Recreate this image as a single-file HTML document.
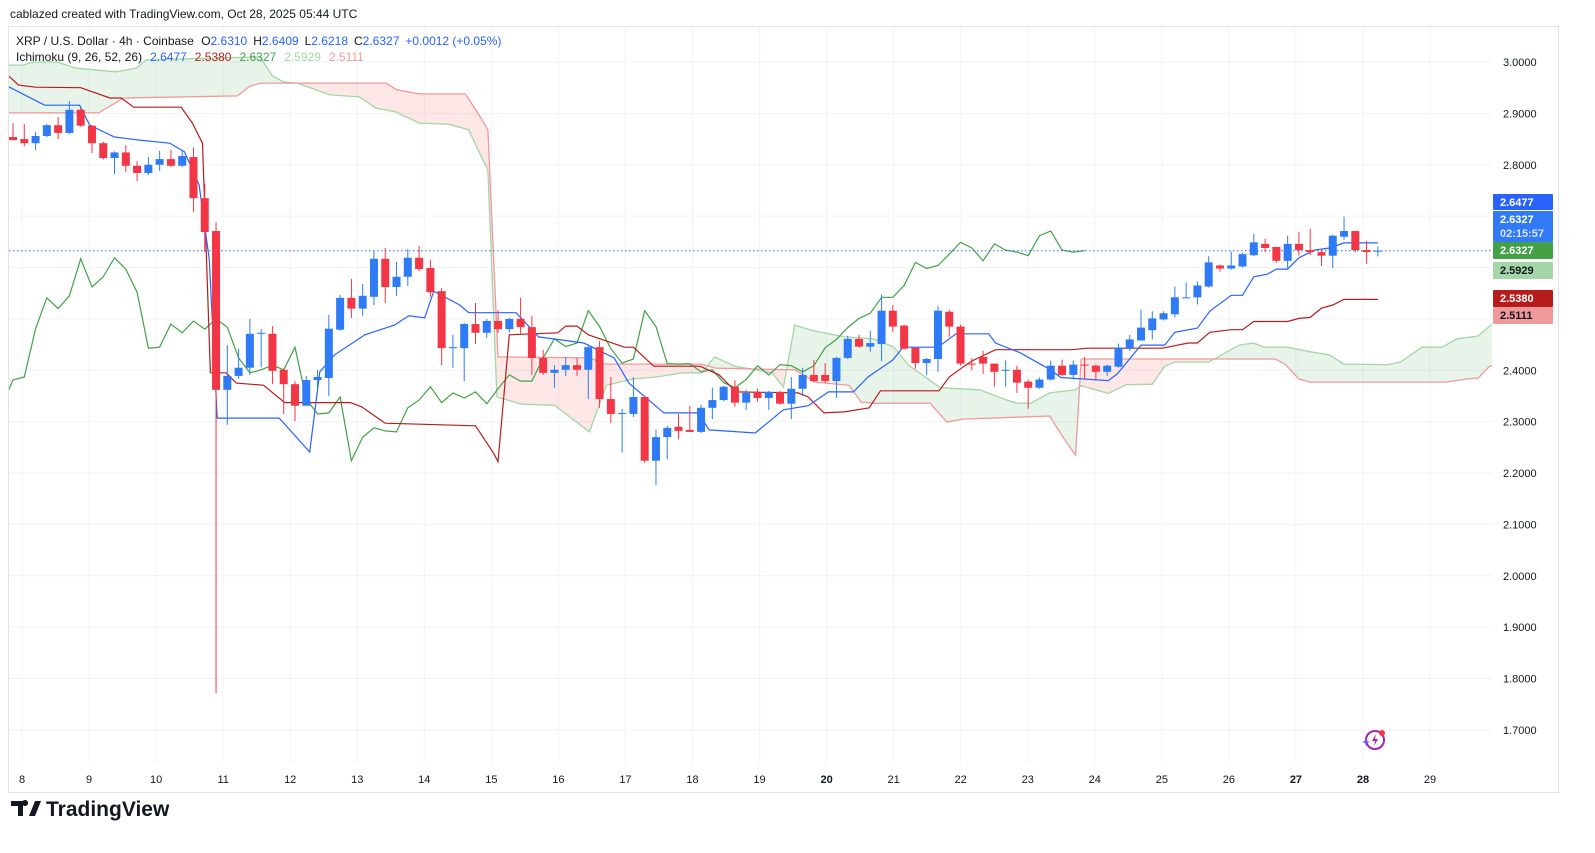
<!DOCTYPE html>
<html><head><meta charset="utf-8">
<style>
html,body{margin:0;padding:0;background:#fff;font-family:"Liberation Sans",sans-serif;width:1595px;height:853px;overflow:hidden;}
svg{display:block;position:absolute;left:0;top:0}
.t{font-family:"Liberation Sans",sans-serif;}
</style></head>
<body>
<svg id="chart" width="1595" height="853" viewBox="0 0 1595 853" xmlns="http://www.w3.org/2000/svg">
<text class="t" x="10" y="18" font-size="12" fill="#131722">cablazed created with TradingView.com, Oct 28, 2025 05:44 UTC</text>
<rect x="8.5" y="26.5" width="1550" height="766" fill="#fff" stroke="#e0e3eb"/>
<defs>
<clipPath id="plot"><rect x="9" y="27" width="1483" height="736"/></clipPath>
<clipPath id="aboveB"><path id="aboveBPath" d=""/></clipPath>
<clipPath id="aboveA"><path id="aboveAPath" d=""/></clipPath>
</defs>
<g id="grid"></g>
<g clip-path="url(#plot)">
<g id="cloud"></g>
<g id="lines"></g>
<g id="candles"></g>
</g>
<g id="yaxis"></g>
<g id="xaxis"></g>
<g id="labels"></g>
<text class="t" x="16" y="45" font-size="12"><tspan fill="#131722">XRP / U.S. Dollar · 4h · Coinbase  </tspan><tspan fill="#131722" dx="4">O</tspan><tspan fill="#2962ff">2.6310</tspan><tspan fill="#131722" dx="6">H</tspan><tspan fill="#2962ff">2.6409</tspan><tspan fill="#131722" dx="6">L</tspan><tspan fill="#2962ff">2.6218</tspan><tspan fill="#131722" dx="6">C</tspan><tspan fill="#2962ff">2.6327</tspan><tspan fill="#2962ff" dx="6">+0.0012 (+0.05%)</tspan></text>
<text class="t" x="16" y="61" font-size="12"><tspan fill="#131722">Ichimoku (9, 26, 52, 26)</tspan><tspan fill="#2962ff" dx="8">2.6477</tspan><tspan fill="#b71c1c" dx="8">2.5380</tspan><tspan fill="#43a047" dx="8">2.6327</tspan><tspan fill="#a5d6a7" dx="8">2.5929</tspan><tspan fill="#ef9a9a" dx="8">2.5111</tspan></text>
<g transform="translate(1375,740)">
<circle r="9" fill="none" stroke="#9c27b0" stroke-width="2"/>
<path d="M1,-6 L-3,1 L0,1 L-1,6 L3,-1 L0,-1 Z" fill="#9c27b0"/>
<circle cx="7" cy="-7" r="3" fill="#f23645"/>
<path d="M-9,-2 L-8,1 L-5,2 L-8,3 L-9,6 L-10,3 L-13,2 L-10,1 Z" fill="#7c4dff"/>
</g>
<g>
<path d="M11,801 h12 v15 h-5 v-10 h-7 z M25,806 a3,3 0 1,1 0.1,0 M29,816 l6,-15 h6 l-6,15 z" fill="#131722"/>
<text class="t" x="46" y="816" font-size="21" font-weight="bold" fill="#131722">TradingView</text>
</g>
</svg>
<script>
const open_=[2.854,2.850,2.842,2.856,2.877,2.862,2.907,2.876,2.842,2.813,2.824,2.798,2.784,2.800,2.811,2.798,2.815,2.735,2.671,2.362,2.389,2.405,2.471,2.471,2.401,2.373,2.331,2.381,2.385,2.479,2.541,2.520,2.543,2.617,2.562,2.582,2.619,2.599,2.554,2.443,2.443,2.490,2.473,2.496,2.480,2.500,2.484,2.424,2.395,2.401,2.410,2.401,2.445,2.344,2.315,2.315,2.348,2.224,2.270,2.290,2.284,2.280,2.327,2.342,2.368,2.337,2.356,2.346,2.358,2.335,2.364,2.391,2.391,2.379,2.424,2.461,2.446,2.451,2.516,2.487,2.444,2.414,2.422,2.514,2.485,2.413,2.426,2.413,2.399,2.401,2.378,2.366,2.382,2.409,2.391,2.411,2.409,2.397,2.407,2.442,2.458,2.478,2.499,2.509,2.540,2.542,2.563,2.604,2.598,2.602,2.624,2.646,2.640,2.613,2.646,2.634,2.630,2.623,2.660,2.671,2.634,2.6310];
const high=[2.881,2.879,2.864,2.879,2.893,2.924,2.911,2.877,2.845,2.826,2.838,2.807,2.815,2.827,2.829,2.829,2.834,2.763,2.688,2.449,2.442,2.500,2.480,2.486,2.403,2.379,2.389,2.401,2.508,2.547,2.578,2.568,2.632,2.638,2.611,2.636,2.642,2.615,2.560,2.469,2.492,2.531,2.500,2.517,2.502,2.541,2.506,2.440,2.410,2.426,2.424,2.449,2.457,2.387,2.325,2.387,2.350,2.284,2.292,2.315,2.331,2.333,2.366,2.370,2.381,2.362,2.364,2.360,2.360,2.387,2.405,2.420,2.414,2.426,2.467,2.469,2.477,2.547,2.527,2.489,2.444,2.424,2.525,2.518,2.489,2.424,2.438,2.413,2.419,2.409,2.382,2.386,2.419,2.421,2.419,2.426,2.411,2.411,2.452,2.469,2.518,2.515,2.515,2.563,2.571,2.573,2.622,2.606,2.631,2.629,2.665,2.656,2.640,2.662,2.669,2.675,2.636,2.664,2.699,2.671,2.652,2.6409];
const low=[2.848,2.836,2.829,2.854,2.850,2.860,2.874,2.823,2.810,2.782,2.786,2.768,2.780,2.788,2.796,2.796,2.708,2.630,1.772,2.294,2.383,2.391,2.406,2.373,2.315,2.301,2.331,2.362,2.350,2.477,2.502,2.506,2.527,2.531,2.545,2.564,2.593,2.543,2.410,2.405,2.379,2.451,2.463,2.473,2.473,2.471,2.391,2.391,2.366,2.389,2.389,2.344,2.327,2.297,2.240,2.309,2.220,2.177,2.227,2.266,2.280,2.278,2.305,2.340,2.329,2.323,2.339,2.323,2.333,2.305,2.350,2.377,2.375,2.346,2.422,2.444,2.436,2.418,2.475,2.440,2.403,2.391,2.397,2.465,2.409,2.400,2.393,2.368,2.368,2.356,2.325,2.364,2.380,2.389,2.382,2.382,2.382,2.389,2.405,2.438,2.458,2.460,2.497,2.503,2.540,2.528,2.561,2.592,2.596,2.600,2.622,2.630,2.609,2.597,2.623,2.624,2.603,2.599,2.654,2.630,2.607,2.6218];
const close_=[2.848,2.842,2.856,2.877,2.862,2.907,2.876,2.842,2.813,2.824,2.798,2.784,2.800,2.811,2.798,2.817,2.735,2.669,2.362,2.389,2.405,2.471,2.473,2.399,2.373,2.331,2.381,2.387,2.481,2.541,2.520,2.545,2.617,2.562,2.582,2.619,2.597,2.552,2.443,2.445,2.490,2.473,2.496,2.480,2.500,2.484,2.424,2.395,2.401,2.410,2.401,2.445,2.344,2.315,2.317,2.348,2.224,2.270,2.288,2.282,2.280,2.327,2.342,2.368,2.337,2.356,2.346,2.358,2.335,2.364,2.391,2.379,2.379,2.424,2.461,2.446,2.453,2.516,2.485,2.442,2.414,2.422,2.516,2.485,2.413,2.412,2.413,2.397,2.401,2.376,2.366,2.382,2.409,2.391,2.411,2.409,2.397,2.409,2.444,2.460,2.483,2.501,2.511,2.542,2.542,2.565,2.610,2.598,2.604,2.626,2.649,2.638,2.613,2.646,2.634,2.630,2.623,2.662,2.671,2.634,2.630,2.6327];

const tenkanIdx=[-0.5,2.8,5.9,6.8,9,11.2,13.9,15.2,16.5,17.4,18.1,23.6,26.3,27.2,28.5,31.2,33.8,35.1,36.5,37.3,39.6,40.4,44.6,46.6,50.6,53.3,54.6,57.7,60.8,61.7,65.8,68.3,70.5,72.3,74.5,75.8,78,78.9,82,83.6,86.5,87.1,89.3,91.9,92.9,97.1,97.9,100,102.1,103,105,106.1,108,109,110,111.2,112,113,114,115.4,116.7,118,121];
const tenkanVal=[2.953,2.916,2.916,2.877,2.854,2.848,2.842,2.825,2.761,2.615,2.307,2.307,2.241,2.397,2.430,2.469,2.488,2.506,2.502,2.554,2.527,2.512,2.512,2.465,2.453,2.424,2.375,2.317,2.317,2.284,2.278,2.323,2.331,2.358,2.358,2.387,2.420,2.445,2.445,2.471,2.471,2.453,2.434,2.402,2.386,2.380,2.393,2.449,2.449,2.474,2.482,2.515,2.546,2.546,2.582,2.587,2.597,2.597,2.619,2.634,2.638,2.648,2.648];
const kijunIdx=[-0.5,0.5,2,6,8.6,9.6,10.7,14.9,15.9,16.8,17.5,18.9,19.8,22.2,24.1,29.9,30.9,33,41,42.6,43,44,48.3,49,50,51,54.2,55,56.8,60.9,62.6,64.1,69.6,70.5,71.9,73.7,75.9,76.9,82.1,83,84.2,85,87.1,93.9,95.2,101.9,104.2,105,106.1,108,109,110,113,114,115,116,117,118,121];
const kijunVal=[2.975,2.955,2.951,2.950,2.930,2.930,2.912,2.912,2.881,2.842,2.395,2.395,2.375,2.371,2.337,2.337,2.329,2.297,2.292,2.239,2.222,2.469,2.473,2.486,2.486,2.469,2.445,2.445,2.408,2.408,2.391,2.358,2.356,2.348,2.317,2.319,2.327,2.360,2.360,2.387,2.406,2.418,2.440,2.440,2.443,2.443,2.453,2.453,2.474,2.479,2.479,2.495,2.495,2.501,2.503,2.521,2.527,2.538,2.538];
const spanAIdx=[-0.5,0.9,1.75,3.9,5.6,9.1,10.9,11.8,21.9,23,24,25.2,28.1,30.7,32.2,33.9,36,38.6,40.4,41.1,42.1,42.9,45.1,48,51.1,52.6,55,57,59.4,61.1,62.2,64,67.3,68.3,69.3,70.8,73.7,76.3,78.1,79.4,82.2,85.7,88.1,89,90.2,91.9,94.2,94.7,97.1,98.7,101,102.1,103,106,108.7,110,110.9,113,115,116.7,118,121.9,123,124.9,126.7,128,129.9,130.9,131.5,133];
const spanAVal=[2.994,2.994,3.0,3.0,2.988,2.981,2.988,3.004,3.010,2.973,2.961,2.959,2.936,2.932,2.910,2.903,2.881,2.879,2.868,2.835,2.790,2.348,2.334,2.332,2.280,2.371,2.383,2.387,2.395,2.395,2.426,2.408,2.395,2.367,2.488,2.478,2.465,2.461,2.445,2.410,2.366,2.362,2.342,2.336,2.336,2.356,2.362,2.370,2.355,2.372,2.373,2.408,2.416,2.416,2.449,2.453,2.445,2.445,2.436,2.430,2.412,2.411,2.416,2.445,2.445,2.461,2.467,2.486,2.496,2.51];
const spanBIdx=[-0.5,7.6,9.8,19.9,21,22,33.1,34,36,40.1,41.2,42.1,43,51.2,52.4,61.1,62.3,69.3,71.1,74.1,75.2,76.3,81.3,82.8,84.2,91.9,93.2,94.2,94.7,111.9,112.8,114,115,127,128.9,129.9,130.9,133];
const spanBVal=[2.901,2.901,2.930,2.934,2.953,2.959,2.959,2.946,2.938,2.938,2.901,2.868,2.426,2.424,2.412,2.412,2.404,2.401,2.377,2.371,2.338,2.336,2.336,2.299,2.305,2.311,2.266,2.235,2.422,2.422,2.411,2.383,2.377,2.377,2.383,2.385,2.408,2.408];
const chikouShift=26;
const priceTicks=[3.0,2.9,2.8,2.7,2.6,2.5,2.4,2.3,2.2,2.1,2.0,1.9,1.8,1.7];
const dayTicks=[8,9,10,11,12,13,14,15,16,17,18,19,20,21,22,23,24,25,26,27,28,29];
const boldDays=[20,27,28];
const lastPrice=2.6327;
const labelTexts=["2.6477","2.6327","02:15:57","2.6327","2.5929","2.5380","2.5111"];

const NS="http://www.w3.org/2000/svg";
const y=p=>62+(3.0-p)*513.8;
const x=i=>13+i*11.28;
const dayX=k=>22+k*67.05;
function mk(tag,attrs,parent){const e=document.createElementNS(NS,tag);for(const k in attrs)e.setAttribute(k,attrs[k]);parent.appendChild(e);return e;}
const grid=document.getElementById('grid');
priceTicks.forEach(p=>{const l=mk('line',{x1:9,x2:1492,y1:y(p),y2:y(p),stroke:'#f0f3fa'},grid);

});
dayTicks.forEach((d,k)=>{const l=mk('line',{x1:dayX(k),x2:dayX(k),y1:27,y2:763,stroke:'#f0f3fa'},grid);

});
const ya=document.getElementById('yaxis');
priceTicks.forEach(p=>{const t=mk('text',{x:1503,y:y(p)+4,'font-size':11,fill:'#131722',class:'t'},ya);t.textContent=p.toFixed(4);

});
const xa=document.getElementById('xaxis');
dayTicks.forEach((d,k)=>{const t=mk('text',{x:dayX(k),y:783,'font-size':11,fill:'#131722','text-anchor':'middle',class:'t','font-weight':boldDays.includes(d)?'bold':'normal'},xa);t.textContent=d;

});
function pts(idx,val){return idx.map((i,k)=>x(i).toFixed(1)+','+y(val[k]).toFixed(1));}
document.getElementById('aboveBPath').setAttribute('d','M'+pts(spanBIdx,spanBVal).join(' L')+' L'+x(spanBIdx[spanBIdx.length-1])+',0 L'+x(spanBIdx[0])+',0 Z');
document.getElementById('aboveAPath').setAttribute('d','M'+pts(spanAIdx,spanAVal).join(' L')+' L'+x(spanAIdx[spanAIdx.length-1])+',0 L'+x(spanAIdx[0])+',0 Z');
const cl=document.getElementById('cloud');
const gA=mk('path',{d:'M'+pts(spanAIdx,spanAVal).join(' L')+' L'+x(spanAIdx[spanAIdx.length-1])+',800 L'+x(spanAIdx[0])+',800 Z',fill:'rgba(67,160,71,0.12)','clip-path':'url(#aboveB)'},cl);


const gB=mk('path',{d:'M'+pts(spanBIdx,spanBVal).join(' L')+' L'+x(spanBIdx[spanBIdx.length-1])+',800 L'+x(spanBIdx[0])+',800 Z',fill:'rgba(244,67,54,0.12)','clip-path':'url(#aboveA)'},cl);


const ln=document.getElementById('lines');
const sa=mk('polyline',{points:pts(spanAIdx,spanAVal).join(' '),fill:'none',stroke:'#a5d6a7','stroke-width':1.3},ln);


const sb=mk('polyline',{points:pts(spanBIdx,spanBVal).join(' '),fill:'none',stroke:'#ef9a9a','stroke-width':1.3},ln);


const chIdx=[],chVal=[];
for(let i=chikouShift-1;i<close_.length;i++){chIdx.push(i-chikouShift);chVal.push(close_[i]);}
const ch=mk('polyline',{points:pts(chIdx,chVal).join(' '),fill:'none',stroke:'#43a047','stroke-width':1.2},ln);


const kj=mk('polyline',{points:pts(kijunIdx,kijunVal).join(' '),fill:'none',stroke:'#b71c1c','stroke-width':1.2},ln);


const tk=mk('polyline',{points:pts(tenkanIdx,tenkanVal).join(' '),fill:'none',stroke:'#2962ff','stroke-width':1.2},ln);


const pl=mk('line',{x1:9,x2:1492,y1:y(lastPrice),y2:y(lastPrice),stroke:'#2962ff','stroke-dasharray':'1.5 2.5'},ln);


const cg=document.getElementById('candles');
close_.forEach((c,i)=>{const o=open_[i],col=c>=o?'#2f7bf5':'#f23645',cx=x(i);
const g=mk('g',{},cg);


mk('line',{x1:cx,x2:cx,y1:y(high[i]),y2:y(low[i]),stroke:col,'stroke-width':1},g);
const t=Math.min(y(o),y(c)),h=Math.max(1,Math.abs(y(o)-y(c)));
mk('rect',{x:cx-4,y:t,width:8,height:h,fill:col},g);});
const lb=document.getElementById('labels');
const boxes=[[194,16,'#2962ff','#fff',[0]],[211,31,'#3179f5','#fff',[1,2]],[242,17,'#43a047','#fff',[3]],[262,17,'#a5d6a7','#131722',[4]],[290,17,'#b71c1c','#fff',[5]],[307,17,'#ef9a9a','#131722',[6]]];
boxes.forEach(b=>{const g=mk('g',{},lb);


mk('rect',{x:1493,y:b[0],width:60,height:b[1],fill:b[2],rx:1},g);
b[4].forEach((ti,k)=>{const t=mk('text',{x:1500,y:b[0]+12+k*14,'font-size':11,fill:ti==2?'#d6e4fd':b[3],class:'t','font-weight':'bold'},g);t.textContent=labelTexts[ti];});});
</script>
</body></html>
